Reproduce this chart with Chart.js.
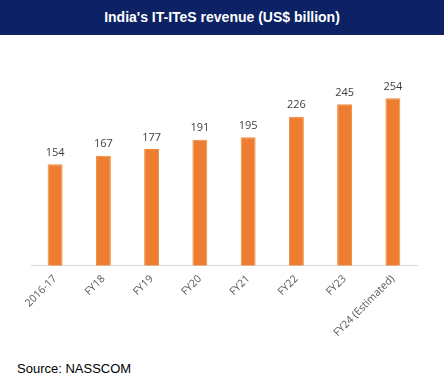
<!DOCTYPE html>
<html>
<head>
<meta charset="utf-8">
<script src="https://cdn.jsdelivr.net/npm/chart.js@4/dist/chart.umd.min.js"></script>
<style>
  html, body { margin: 0; padding: 0; background: #fff; }
  #page { position: relative; width: 444px; height: 388px; overflow: hidden; }
  #header {
    position: absolute; left: 0; top: 0; width: 444px; height: 35px;
    background: #0c2265; color: #fff; text-align: center;
    font: bold 14px "Liberation Sans", Arial, sans-serif; line-height: 35px;
  }
  #wrap { position: absolute; left: 0; top: 35px; width: 444px; height: 311px; }
  #source {
    position: absolute; left: 17px; top: 361px;
    font: 13px "Liberation Sans", Arial, sans-serif; color: #000;
  }
</style>
</head>
<body>
<div id="page">
  <div id="header">India's IT-ITeS revenue (US$ billion)</div>
  <div id="wrap"><canvas id="revenueChart"></canvas></div>
  <div id="source">Source: NASSCOM</div>
</div>
<script>
const categories = ["2016-17", "FY18", "FY19", "FY20", "FY21", "FY22", "FY23", "FY24 (Estimated)"];
const revenue = [154, 167, 177, 191, 195, 226, 245, 254];

// draws the value above each bar
const valueLabels = {
  id: "valueLabels",
  afterDatasetsDraw(chart) {
    const ctx = chart.ctx;
    const meta = chart.getDatasetMeta(0);
    ctx.save();
    ctx.font = '11px "Open Sans", sans-serif';
    ctx.fillStyle = "#404040";
    ctx.textAlign = "center";
    ctx.textBaseline = "bottom";
    meta.data.forEach((bar, i) => {
      ctx.fillText(revenue[i], bar.x, bar.y - 6);
    });
    ctx.restore();
  },
};

const ctx = document.getElementById("revenueChart").getContext("2d");

new Chart(ctx, {
  type: "bar",
  data: {
    labels: categories,
    datasets: [
      {
        label: "Revenue",
        data: revenue,
        backgroundColor: "#ed7d31",
        borderColor: "#f0893f",
        borderWidth: 1,
        categoryPercentage: 1,
        barPercentage: 0.31,
      },
    ],
  },
  options: {
    responsive: true,
    maintainAspectRatio: false,
    animation: false,
    layout: { padding: { top: 33, left: 31, right: 27, bottom: 0 } },
    plugins: {
      legend: { display: false },
      title: { display: false },
      tooltip: { enabled: false },
    },
    scales: {
      x: {
        grid: { display: false, drawTicks: false },
        border: { display: true, color: "#d9d9d9", width: 1 },
        ticks: {
          autoSkip: false,
          minRotation: 45,
          maxRotation: 45,
          padding: 7,
          color: "#595959",
          font: { family: "Open Sans", size: 10.5 },
        },
      },
      y: {
        display: false,
        min: 0,
        max: 300,
      },
    },
  },
  plugins: [valueLabels],
});
</script>
</body>
</html>
